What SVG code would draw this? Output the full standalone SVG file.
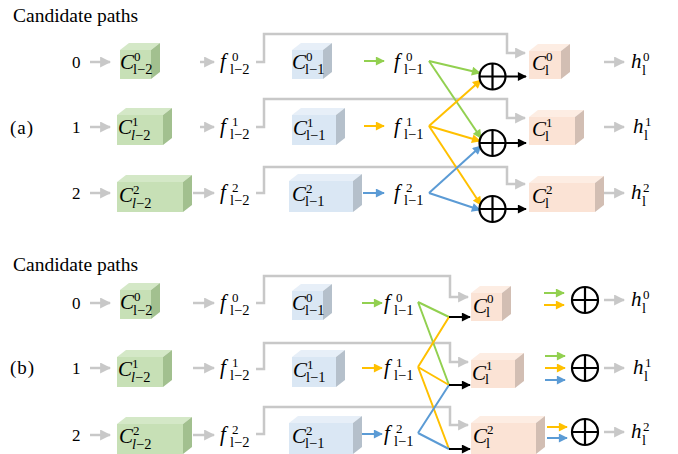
<svg xmlns="http://www.w3.org/2000/svg" width="678" height="454" viewBox="0 0 678 454" font-family="'Liberation Serif','Times New Roman',serif">
<style>
text{font-family:"Liberation Serif","Times New Roman",serif;fill:#000}
.ttl{font-size:19.5px}
.num{font-size:17px}
.lab{font-size:19px;letter-spacing:1px}
.m{font-size:21px;font-style:italic}
.s{font-size:13px}
.u{font-size:14.5px}
.i{font-style:italic}
.gy{stroke:#c8c8c8;stroke-width:2.5;fill:none}
.gn{stroke:#92d050;stroke-width:2;fill:none}
.or{stroke:#ffc000;stroke-width:2;fill:none}
.bl{stroke:#5b9bd5;stroke-width:2;fill:none}
.bk{stroke:#000;stroke-width:2;fill:none}
.ag{marker-end:url(#mgy)}
.agn{marker-end:url(#mgn)}
.aor{marker-end:url(#mor)}
.abl{marker-end:url(#mbl)}
.abk{marker-end:url(#mbk)}
.gf{fill:#c7e0b6}.gt{fill:#d4e8c7}.gs{fill:#a2c08f}
.bf{fill:#dae7f4}.bt{fill:#e7eff8}.bs{fill:#b5c0cb}
.pf{fill:#fbe3d5}.pt{fill:#fdede3}.ps{fill:#d2beb3}
.op circle{fill:#fff;stroke:#000;stroke-width:2.2}
.op path{stroke:#000;stroke-width:2.2}
</style>
<defs>
<marker id="mgy" viewBox="0 0 10 10" markerWidth="11" markerHeight="11" refX="9" refY="5" orient="auto" markerUnits="userSpaceOnUse"><path d="M0,0 L10,5 L0,10 z" fill="#c8c8c8"/></marker>
<marker id="mgn" viewBox="0 0 10 10" markerWidth="10" markerHeight="9" refX="9" refY="5" orient="auto" markerUnits="userSpaceOnUse"><path d="M0,0 L10,5 L0,10 z" fill="#92d050"/></marker>
<marker id="mor" viewBox="0 0 10 10" markerWidth="10" markerHeight="9" refX="9" refY="5" orient="auto" markerUnits="userSpaceOnUse"><path d="M0,0 L10,5 L0,10 z" fill="#ffc000"/></marker>
<marker id="mbl" viewBox="0 0 10 10" markerWidth="10" markerHeight="9" refX="9" refY="5" orient="auto" markerUnits="userSpaceOnUse"><path d="M0,0 L10,5 L0,10 z" fill="#5b9bd5"/></marker>
<marker id="mbk" viewBox="0 0 10 10" markerWidth="10" markerHeight="9" refX="9" refY="5" orient="auto" markerUnits="userSpaceOnUse"><path d="M0,0 L10,5 L0,10 z" fill="#000"/></marker>
</defs>

<!-- ===== Panel (a) ===== -->
<text class="ttl" x="13" y="22">Candidate paths</text>
<text class="lab" x="10" y="134">(a)</text>
<g id="a-num0"><text class="num" x="72" y="68">0</text></g>
<g id="a-num1"><text class="num" x="72" y="133">1</text></g>
<g id="a-num2"><text class="num" x="72" y="199">2</text></g>

<g id="a-connectors">
<path class="gy ag" d="M90,62 H110"/>
<path class="gy ag" d="M90,127 H110"/>
<path class="gy ag" d="M90,193 H110"/>
<path class="gy ag" d="M200,62 H214"/>
<path class="gy ag" d="M200,127 H214"/>
<path class="gy ag" d="M193,193 H214"/>
<path class="gy ag" d="M256,62 H264 V34 H507 V53 H525"/>
<path class="gy ag" d="M256,127 H264 V99 H507 V118 H525"/>
<path class="gy ag" d="M256,193 H264 V167 H507 V184 H525"/>
<path class="gn agn" d="M364,61 H384"/>
<path class="or aor" d="M364,126 H384"/>
<path class="bl abl" d="M363,193 H384"/>
<path class="gn agn" d="M429,61 L480,73"/>
<path class="gn agn" d="M429,61 L481,138"/>
<path class="or aor" d="M429,126 L481,80"/>
<path class="or aor" d="M429,126 L480,141"/>
<path class="or aor" d="M429,126 L481,205"/>
<path class="bl abl" d="M429,193 L481,146"/>
<path class="bl abl" d="M429,193 L480,210"/>
<path class="bk abk" d="M505.5,76.5 H526"/>
<path class="bk abk" d="M505.5,143 H526"/>
<path class="bk abk" d="M505.5,209 H526"/>
<path class="gy ag" d="M604,62 H624"/>
<path class="gy ag" d="M604,127 H624"/>
<path class="gy ag" d="M604,193 H624"/>
</g>

<g id="a-G0"><rect class="gf" x="120" y="50" width="31" height="29"/><polygon class="gt" points="120,50 129,43 160,43 151,50"/><polygon class="gs" points="151,50 160,43 160,72 151,79"/>
<text class="m" x="120" y="69">C</text><text class="s" x="134" y="61">0</text><text class="u" x="133" y="74">l−2</text></g>
<g id="a-G1"><rect class="gf" x="117" y="115" width="46" height="30"/><polygon class="gt" points="117,115 126,108 172,108 163,115"/><polygon class="gs" points="163,115 172,108 172,138 163,145"/>
<text class="m" x="118" y="134">C</text><text class="s" x="132" y="126">1</text><text class="u" x="131" y="140"><tspan class="i">l</tspan>−2</text></g>
<g id="a-G2"><rect class="gf" x="117" y="182" width="66" height="30"/><polygon class="gt" points="117,182 126,175 192,175 183,182"/><polygon class="gs" points="183,182 192,175 192,205 183,212"/>
<text class="m" x="119" y="202">C</text><text class="s" x="133" y="194">2</text><text class="u" x="132" y="208"><tspan class="i">l</tspan>−2</text></g>

<g id="a-f0"><text class="m" x="220" y="68">f</text><text class="s" x="232" y="61">0</text><text class="u" x="230" y="74">l−2</text></g>
<g id="a-f1"><text class="m" x="220" y="133">f</text><text class="s" x="232" y="126">1</text><text class="u" x="230" y="139">l−2</text></g>
<g id="a-f2"><text class="m" x="220" y="199">f</text><text class="s" x="232" y="192">2</text><text class="u" x="230" y="205">l−2</text></g>

<g id="a-B0"><rect class="bf" x="292" y="50" width="31" height="29"/><polygon class="bt" points="292,50 301,43 332,43 323,50"/><polygon class="bs" points="323,50 332,43 332,72 323,79"/>
<text class="m" x="292" y="69">C</text><text class="s" x="306" y="61">0</text><text class="u" x="305" y="74">l−1</text></g>
<g id="a-B1"><rect class="bf" x="292" y="115" width="44" height="30"/><polygon class="bt" points="292,115 301,108 345,108 336,115"/><polygon class="bs" points="336,115 345,108 345,138 336,145"/>
<text class="m" x="293" y="135">C</text><text class="s" x="307" y="127">1</text><text class="u" x="306" y="140">l−1</text></g>
<g id="a-B2"><rect class="bf" x="289" y="181" width="64" height="31"/><polygon class="bt" points="289,181 298,174 362,174 353,181"/><polygon class="bs" points="353,181 362,174 362,205 353,212"/>
<text class="m" x="292" y="201">C</text><text class="s" x="306" y="193">2</text><text class="u" x="305" y="206">l−1</text></g>

<g id="a-h0f"><text class="m" x="394" y="68">f</text><text class="s" x="406" y="61">0</text><text class="u" x="404" y="74">l−1</text></g>
<g id="a-h1f"><text class="m" x="394" y="133">f</text><text class="s" x="406" y="126">1</text><text class="u" x="404" y="139">l−1</text></g>
<g id="a-h2f"><text class="m" x="394" y="199">f</text><text class="s" x="406" y="192">2</text><text class="u" x="404" y="205">l−1</text></g>

<g id="a-op0" class="op"><circle cx="492.5" cy="76.5" r="13"/><path d="M479.5,76.5 H505.5 M492.5,63.5 V89.5"/></g>
<g id="a-op1" class="op"><circle cx="492.5" cy="143" r="13"/><path d="M479.5,143 H505.5 M492.5,130 V156"/></g>
<g id="a-op2" class="op"><circle cx="492.5" cy="209" r="13"/><path d="M479.5,209 H505.5 M492.5,196 V222"/></g>

<g id="a-P0"><rect class="pf" x="529" y="51" width="32" height="28"/><polygon class="pt" points="529,51 538,44 570,44 561,51"/><polygon class="ps" points="561,51 570,44 570,72 561,79"/>
<text class="m" x="532" y="70">C</text><text class="s" x="546" y="61">0</text><text class="u" x="545" y="75">l</text></g>
<g id="a-P1"><rect class="pf" x="529" y="117" width="46" height="28"/><polygon class="pt" points="529,117 538,110 584,110 575,117"/><polygon class="ps" points="575,117 584,110 584,138 575,145"/>
<text class="m" x="532" y="136">C</text><text class="s" x="546" y="127">1</text><text class="u" x="545" y="141">l</text></g>
<g id="a-P2"><rect class="pf" x="529" y="183" width="66" height="29"/><polygon class="pt" points="529,183 538,176 604,176 595,183"/><polygon class="ps" points="595,183 604,176 604,205 595,212"/>
<text class="m" x="532" y="203">C</text><text class="s" x="546" y="194">2</text><text class="u" x="545" y="208">l</text></g>

<g id="a-hl0"><text class="m" x="631" y="68">h</text><text class="s" x="643" y="61">0</text><text class="u" x="642" y="75">l</text></g>
<g id="a-hl1"><text class="m" x="633" y="133">h</text><text class="s" x="645" y="126">1</text><text class="u" x="644" y="140">l</text></g>
<g id="a-hl2"><text class="m" x="631" y="199">h</text><text class="s" x="643" y="192">2</text><text class="u" x="642" y="206">l</text></g>

<!-- ===== Panel (b) ===== -->
<text class="ttl" x="13" y="271">Candidate paths</text>
<text class="lab" x="10" y="374">(b)</text>
<g id="b-num0"><text class="num" x="72" y="309">0</text></g>
<g id="b-num1"><text class="num" x="72" y="374">1</text></g>
<g id="b-num2"><text class="num" x="72" y="441">2</text></g>

<g id="b-connectors">
<path class="gy ag" d="M90,303 H110"/>
<path class="gy ag" d="M90,368 H110"/>
<path class="gy ag" d="M90,435 H110"/>
<path class="gy ag" d="M193,303 H214"/>
<path class="gy ag" d="M193,368 H214"/>
<path class="gy ag" d="M193,435 H214"/>
<path class="gy ag" d="M256,303 H264 V276 H450 V297 H468"/>
<path class="gy ag" d="M256,369 H264 V343 H450 V362 H468"/>
<path class="gy ag" d="M256,434 H264 V407 H450 V425 H468"/>
<path class="gn agn" d="M362,303 H382"/>
<path class="or aor" d="M362,368 H382"/>
<path class="bl abl" d="M362,434 H382"/>
<path class="gn" d="M418,302 L449,317 M418,302 L449,385"/>
<path class="or" d="M418,367 L449,317 M418,367 L449,385 M418,367 L449,449"/>
<path class="bl" d="M418,433 L449,385 M418,433 L449,449"/>
<path class="bk abk" d="M449,317 H470"/>
<path class="bk abk" d="M449,385 H470"/>
<path class="bk abk" d="M449,449 H470"/>
<path class="gn agn" d="M544,293 H564"/>
<path class="or aor" d="M544,305 H564"/>
<path class="gn agn" d="M545,356 H565"/>
<path class="or aor" d="M545,368 H565"/>
<path class="bl abl" d="M545,380 H565"/>
<path class="or aor" d="M547,427 H567"/>
<path class="bl abl" d="M547,438 H567"/>
<path class="gy ag" d="M604,300 H624"/>
<path class="gy ag" d="M604,368 H624"/>
<path class="gy ag" d="M604,432 H624"/>
</g>

<g id="b-G0"><rect class="gf" x="120" y="290" width="31" height="29"/><polygon class="gt" points="120,290 129,283 160,283 151,290"/><polygon class="gs" points="151,290 160,283 160,312 151,319"/>
<text class="m" x="120" y="309">C</text><text class="s" x="134" y="301">0</text><text class="u" x="133" y="315">l−2</text></g>
<g id="b-G1"><rect class="gf" x="117" y="357" width="46" height="30"/><polygon class="gt" points="117,357 126,350 172,350 163,357"/><polygon class="gs" points="163,357 172,350 172,380 163,387"/>
<text class="m" x="118" y="376">C</text><text class="s" x="132" y="368">1</text><text class="u" x="131" y="382"><tspan class="i">l</tspan>−2</text></g>
<g id="b-G2"><rect class="gf" x="117" y="424" width="66" height="30"/><polygon class="gt" points="117,424 126,417 192,417 183,424"/><polygon class="gs" points="183,424 192,417 192,447 183,454"/>
<text class="m" x="119" y="443">C</text><text class="s" x="133" y="435">2</text><text class="u" x="132" y="449"><tspan class="i">l</tspan>−2</text></g>

<g id="b-f0"><text class="m" x="220" y="309">f</text><text class="s" x="232" y="302">0</text><text class="u" x="230" y="315">l−2</text></g>
<g id="b-f1"><text class="m" x="220" y="374">f</text><text class="s" x="232" y="367">1</text><text class="u" x="230" y="380">l−2</text></g>
<g id="b-f2"><text class="m" x="220" y="441">f</text><text class="s" x="232" y="434">2</text><text class="u" x="230" y="447">l−2</text></g>

<g id="b-B0"><rect class="bf" x="292" y="291" width="31" height="29"/><polygon class="bt" points="292,291 301,284 332,284 323,291"/><polygon class="bs" points="323,291 332,284 332,313 323,320"/>
<text class="m" x="292" y="310">C</text><text class="s" x="306" y="302">0</text><text class="u" x="305" y="315">l−1</text></g>
<g id="b-B1"><rect class="bf" x="292" y="357" width="44" height="30"/><polygon class="bt" points="292,357 301,350 345,350 336,357"/><polygon class="bs" points="336,357 345,350 345,380 336,387"/>
<text class="m" x="293" y="377">C</text><text class="s" x="307" y="369">1</text><text class="u" x="306" y="382">l−1</text></g>
<g id="b-B2"><rect class="bf" x="289" y="423" width="64" height="31"/><polygon class="bt" points="289,423 298,416 362,416 353,423"/><polygon class="bs" points="353,423 362,416 362,447 353,454"/>
<text class="m" x="292" y="443">C</text><text class="s" x="306" y="435">2</text><text class="u" x="305" y="448">l−1</text></g>

<g id="b-h0f"><text class="m" x="384" y="309">f</text><text class="s" x="396" y="302">0</text><text class="u" x="394" y="315">l−1</text></g>
<g id="b-h1f"><text class="m" x="384" y="374">f</text><text class="s" x="396" y="367">1</text><text class="u" x="394" y="380">l−1</text></g>
<g id="b-h2f"><text class="m" x="384" y="440">f</text><text class="s" x="396" y="433">2</text><text class="u" x="394" y="446">l−1</text></g>

<g id="b-P0"><rect class="pf" x="471" y="293" width="31" height="28"/><polygon class="pt" points="471,293 480,286 511,286 502,293"/><polygon class="ps" points="502,293 511,286 511,314 502,321"/>
<text class="m" x="473" y="313">C</text><text class="s" x="487" y="303">0</text><text class="u" x="486" y="317">l</text></g>
<g id="b-P1"><rect class="pf" x="471" y="360" width="44" height="28"/><polygon class="pt" points="471,360 480,353 524,353 515,360"/><polygon class="ps" points="515,360 524,353 524,381 515,388"/>
<text class="m" x="472" y="380">C</text><text class="s" x="486" y="370">1</text><text class="u" x="485" y="384">l</text></g>
<g id="b-P2"><rect class="pf" x="471" y="423" width="65" height="31"/><polygon class="pt" points="471,423 480,416 545,416 536,423"/><polygon class="ps" points="536,423 545,416 545,447 536,454"/>
<text class="m" x="473" y="443">C</text><text class="s" x="487" y="434">2</text><text class="u" x="486" y="448">l</text></g>

<g id="b-op0" class="op"><circle cx="585" cy="300" r="13"/><path d="M572,300 H598 M585,287 V313"/></g>
<g id="b-op1" class="op"><circle cx="585" cy="368" r="13"/><path d="M572,368 H598 M585,355 V381"/></g>
<g id="b-op2" class="op"><circle cx="585" cy="432" r="13"/><path d="M572,432 H598 M585,419 V445"/></g>

<g id="b-hl0"><text class="m" x="631" y="306">h</text><text class="s" x="643" y="299">0</text><text class="u" x="642" y="313">l</text></g>
<g id="b-hl1"><text class="m" x="633" y="374">h</text><text class="s" x="645" y="367">1</text><text class="u" x="644" y="381">l</text></g>
<g id="b-hl2"><text class="m" x="631" y="438">h</text><text class="s" x="643" y="431">2</text><text class="u" x="642" y="445">l</text></g>
</svg>
